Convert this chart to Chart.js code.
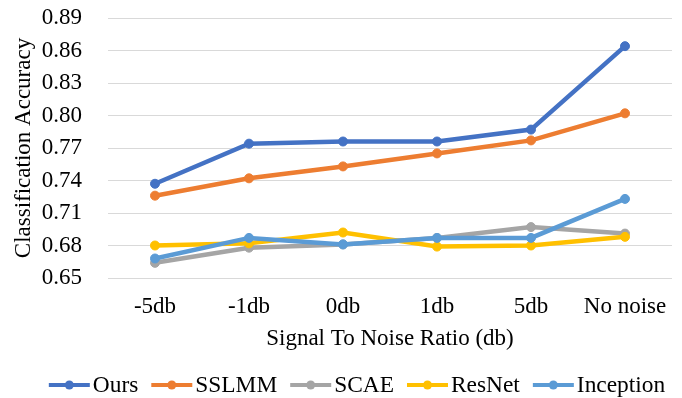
<!DOCTYPE html>
<html>
<head>
<meta charset="utf-8">
<script src="https://cdn.jsdelivr.net/npm/chart.js@4"></script>
<style>
  html, body { margin: 0; padding: 0; background: #fff; }
  #wrap { width: 682px; height: 398px; position: relative; }
</style>
</head>
<body>
<div id="wrap"><canvas id="c" width="682" height="398"></canvas></div>
<script>
// Accuracy per noise level for each model
const categories = ['-5db', '-1db', '0db', '1db', '5db', 'No noise'];
const ours      = [0.737, 0.774, 0.776, 0.776, 0.787, 0.864];
const sslmm     = [0.726, 0.742, 0.753, 0.765, 0.777, 0.802];
const scae      = [0.664, 0.678, 0.681, 0.687, 0.697, 0.691];
const resnet    = [0.680, 0.682, 0.692, 0.679, 0.680, 0.688];
const inception = [0.668, 0.687, 0.681, 0.687, 0.687, 0.723];
const yTicks = [0.65, 0.68, 0.71, 0.74, 0.77, 0.80, 0.83, 0.86, 0.89];

const seriesNames = ['Ours', 'SSLMM', 'SCAE', 'ResNet', 'Inception'];
const seriesValues = [ours, sslmm, scae, resnet, inception];
const seriesColors = ['#4472C4', '#ED7D31', '#A5A5A5', '#FFC000', '#5B9BD5'];

const FONT = "'Liberation Serif', 'Times New Roman', serif";
const FS = 23;
const LEGEND_FS = 23.4;

const datasets = seriesNames.map((name, i) => ({
  label: name,
  data: seriesValues[i],
  borderColor: seriesColors[i],
  backgroundColor: seriesColors[i],
  borderWidth: 4.5,
  pointRadius: 4.5,
  pointBorderWidth: 1,
  pointBorderColor: seriesColors[i],
  pointBackgroundColor: seriesColors[i],
  tension: 0,
  fill: false,
  // later series sit on top of earlier ones
  order: seriesNames.length - i
}));

// Legend row under the axis title: line-with-dot marker followed by the name
const bottomLegend = {
  id: 'bottomLegend',
  afterDraw(chart) {
    const ctx = chart.ctx;
    ctx.save();
    ctx.font = LEGEND_FS + 'px ' + FONT;
    ctx.textBaseline = 'middle';
    const markerW = 41, gap = 3, spacing = 13;
    const items = chart.data.datasets.map(d => ({
      label: d.label, color: d.borderColor, w: ctx.measureText(d.label).width
    }));
    const total = items.reduce((s, it) => s + markerW + gap + it.w, 0) + spacing * (items.length - 1);
    let x = 357 - total / 2;
    const y = 385;
    items.forEach(it => {
      ctx.strokeStyle = it.color;
      ctx.lineWidth = 4;
      ctx.lineCap = 'butt';
      ctx.beginPath();
      ctx.moveTo(x, y);
      ctx.lineTo(x + markerW, y);
      ctx.stroke();
      ctx.fillStyle = it.color;
      ctx.beginPath();
      ctx.arc(x + markerW / 2, y, 4.5, 0, Math.PI * 2);
      ctx.fill();
      ctx.fillStyle = '#000';
      ctx.textAlign = 'left';
      ctx.fillText(it.label, x + markerW + gap, y + 1);
      x += markerW + gap + it.w + spacing;
    });
    ctx.restore();
  }
};

new Chart(document.getElementById('c'), {
  type: 'line',
  data: { labels: categories, datasets },
  options: {
    responsive: false,
    animation: false,
    devicePixelRatio: 1,
    layout: { padding: { left: 0, right: 10, top: 18, bottom: 0 } },
    plugins: {
      legend: { display: false },
      tooltip: { enabled: false }
    },
    scales: {
      x: {
        grid: { display: false, drawTicks: false },
        border: { display: false },
        offset: true,
        ticks: { color: '#000', font: { family: FONT, size: FS }, padding: 15, maxRotation: 0, autoSkip: false },
        title: {
          display: true, text: 'Signal To Noise Ratio (db)', color: '#000',
          font: { family: FONT, size: FS }, padding: { top: 0, bottom: 45 }
        },
        afterFit(scale) {
          scale.height = 120;
          scale.paddingLeft = 0;
          scale.paddingRight = 0;
        }
      },
      y: {
        min: 0.65,
        max: 0.89,
        afterBuildTicks(scale) { scale.ticks = yTicks.map(v => ({ value: v })); },
        grid: { color: '#D9D9D9', lineWidth: 1, drawTicks: false },
        border: { display: false },
        ticks: {
          color: '#000', font: { family: FONT, size: FS }, padding: 26, autoSkip: false,
          callback: v => Number(v).toFixed(2)
        },
        title: {
          display: true, text: 'Classification Accuracy', color: '#000',
          font: { family: FONT, size: FS }, padding: { top: 10, bottom: 0 }
        },
        afterFit(scale) {
          scale.width = 108;
          scale.paddingTop = 0;
          scale.paddingBottom = 0;
        }
      }
    }
  },
  plugins: [bottomLegend]
});
</script>
</body>
</html>
